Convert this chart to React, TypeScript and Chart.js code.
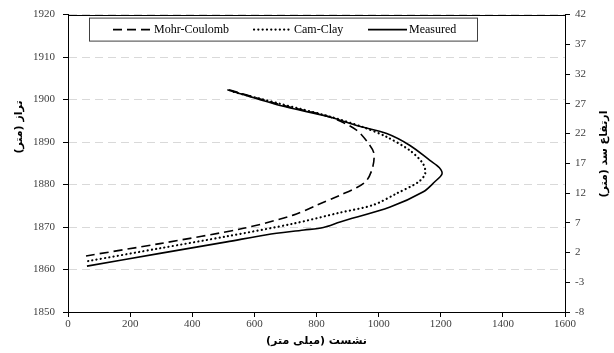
import React, { useEffect, useRef } from "react";
import { Chart, registerables } from "chart.js";

Chart.register(...registerables);

// Settlement (mm) versus elevation (m)
const mohrCoulombX = [58, 296, 565, 725, 800, 876, 930, 962, 981, 985, 972, 929, 843, 683, 515];
const mohrCoulombY = [1863.2, 1866.1, 1869.7, 1872.8, 1875.1, 1877.5, 1879.3, 1881, 1884.1, 1887.3, 1889.2, 1892.8, 1895.9, 1898.8, 1902.4];

const camClayX = [65, 296, 511, 725, 876, 983, 1058, 1128, 1150, 1143, 1101, 1026, 950, 843, 683, 528];
const camClayY = [1862, 1865, 1867.8, 1870.8, 1873.4, 1875.2, 1877.9, 1880.6, 1882.6, 1884.9, 1888, 1891.2, 1893.5, 1896, 1899, 1901.9];

const measuredX = [61, 296, 511, 640, 760, 822, 876, 1037, 1144, 1180, 1204, 1195, 1165, 1101, 1026, 929, 843, 683, 513];
const measuredY = [1860.8, 1863.8, 1866.5, 1868.2, 1869.3, 1869.9, 1871.2, 1874.7, 1878.3, 1880.6, 1882.5, 1884, 1885.7, 1889.2, 1892, 1893.9, 1895.9, 1898.6, 1902.3];

const seriesLabels = ["Mohr-Coulomb", "Cam-Clay", "Measured"];

const xTitle = "نشست (میلی متر)";
const yTitle = "تراز (متر)";
const y2Title = "ارتفاع سد (متر)";

const xRange = [0, 1600];
const yRange = [1850, 1920];
const y2Range = [-8, 42];

const toPoints = (xs: number[], ys: number[]) => xs.map((x, i) => ({ x, y: ys[i] }));
const plainNumber = (v: any) => String(v);

const TICK_FONT = { family: "'Liberation Serif', serif", size: 11 };
const TITLE_FONT = "bold 11px 'DejaVu Sans', sans-serif";

// Frame top edge, boxed legend and the two vertical axis titles
const decorPlugin = {
  id: "decor",
  afterDraw(chart: any) {
    const { ctx, chartArea: a } = chart;
    ctx.save();

    // top edge of the plot frame
    ctx.strokeStyle = "#000";
    ctx.lineWidth = 1;
    ctx.beginPath();
    ctx.moveTo(a.left, Math.round(a.top) + 0.5);
    ctx.lineTo(a.right, Math.round(a.top) + 0.5);
    ctx.stroke();

    // legend box
    const bx = a.left + 21;
    const by = a.top + 3;
    const bw = 388;
    const bh = 23;
    ctx.fillStyle = "#fff";
    ctx.fillRect(bx, by, bw, bh);
    ctx.strokeStyle = "#404040";
    ctx.strokeRect(bx + 0.5, by + 0.5, bw, bh);

    const cy = by + bh / 2 + 0.5;
    const samples = [
      { x0: 113, x1: 152, tx: 154 },
      { x0: 254, x1: 291, tx: 294 },
      { x0: 368, x1: 407, tx: 409 },
    ];
    ctx.font = "12px 'Liberation Serif', serif";
    ctx.textBaseline = "middle";
    ctx.textAlign = "left";
    chart.data.datasets.forEach((ds: any, i: number) => {
      const s = samples[i];
      ctx.save();
      ctx.strokeStyle = ds.borderColor;
      ctx.lineWidth = ds.borderWidth;
      ctx.lineCap = ds.borderCapStyle || "butt";
      ctx.setLineDash(ds.borderDash || []);
      ctx.beginPath();
      ctx.moveTo(s.x0, cy);
      ctx.lineTo(s.x1, cy);
      ctx.stroke();
      ctx.restore();
      ctx.fillStyle = "#000";
      ctx.fillText(ds.label, s.tx, cy + 0.5);
    });

    // vertical axis titles
    ctx.font = TITLE_FONT;
    ctx.fillStyle = "#000";
    ctx.textAlign = "center";
    ctx.textBaseline = "middle";
    ctx.save();
    ctx.translate(19, 127);
    ctx.rotate(-Math.PI / 2);
    ctx.fillText(yTitle, 0, 0);
    ctx.restore();
    ctx.save();
    ctx.translate(604, 154);
    ctx.rotate(-Math.PI / 2);
    ctx.fillText(y2Title, 0, 0);
    ctx.restore();

    ctx.restore();
  },
};

export default function App() {
  const canvasRef = useRef<HTMLCanvasElement>(null);

  useEffect(() => {
    if (!canvasRef.current) return;
    const common = {
      borderColor: "#000",
      borderWidth: 1.6,
      pointRadius: 0,
      pointHoverRadius: 0,
      showLine: true,
      fill: false,
      tension: 0.3,
    };
    const chart = new Chart(canvasRef.current, {
      type: "scatter",
      data: {
        datasets: [
          { ...common, label: seriesLabels[0], data: toPoints(mohrCoulombX, mohrCoulombY), borderDash: [9, 5] },
          {
            ...common,
            label: seriesLabels[1],
            data: toPoints(camClayX, camClayY),
            borderDash: [0.1, 4.2],
            borderCapStyle: "round",
            borderWidth: 2.2,
          },
          { ...common, label: seriesLabels[2], data: toPoints(measuredX, measuredY) },
        ],
      },
      options: {
        responsive: false,
        animation: false,
        layout: { padding: { top: 14, left: 0, right: 0, bottom: 0 } },
        plugins: {
          legend: { display: false },
          tooltip: { enabled: false },
        },
        scales: {
          x: {
            type: "linear",
            position: "bottom",
            min: xRange[0],
            max: xRange[1],
            ticks: { stepSize: 200, font: TICK_FONT, color: "#404040", padding: 1, maxRotation: 0, callback: plainNumber },
            grid: { drawOnChartArea: false, drawTicks: true, tickLength: 5, tickColor: "#000" },
            border: { color: "#000", width: 1 },
            title: {
              display: true,
              text: xTitle,
              color: "#000",
              font: { family: "'DejaVu Sans', sans-serif", size: 11, weight: "bold" },
              padding: { top: 0, bottom: 5 },
            },
            afterFit(scale: any) {
              scale.height = 41;
            },
          },
          y: {
            type: "linear",
            position: "left",
            min: yRange[0],
            max: yRange[1],
            ticks: { stepSize: 10, font: TICK_FONT, color: "#404040", padding: 8, callback: plainNumber },
            grid: { color: "#d9d9d9", lineWidth: 1, tickLength: 5, tickColor: "#000" },
            border: { color: "#000", width: 1, dash: [8, 5] },
            afterFit(scale: any) {
              scale.width = 68;
            },
          },
          y2: {
            type: "linear",
            position: "right",
            min: y2Range[0],
            max: y2Range[1],
            ticks: { stepSize: 5, font: TICK_FONT, color: "#404040", padding: 5, callback: plainNumber },
            grid: { drawOnChartArea: false, tickLength: 5, tickColor: "#000" },
            border: { color: "#000", width: 1 },
            afterFit(scale: any) {
              scale.width = 49;
            },
          },
        },
      },
      plugins: [decorPlugin],
    } as any);
    return () => chart.destroy();
  }, []);

  return (
    <div style={{ position: "absolute", left: 0, top: 0, width: 614, height: 353, background: "#fff" }}>
      <canvas ref={canvasRef} width={614} height={353} style={{ display: "block" }} />
    </div>
  );
}
